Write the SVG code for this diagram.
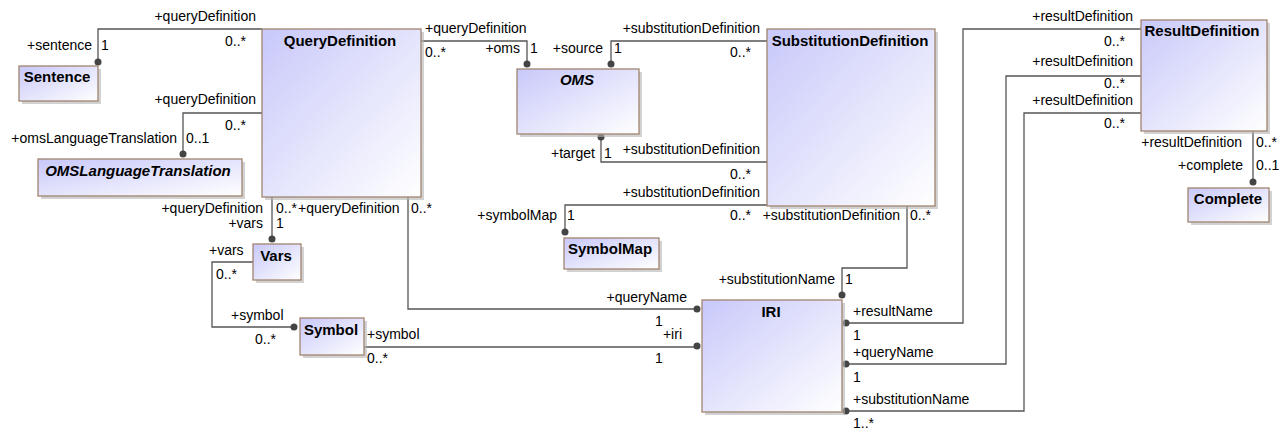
<svg xmlns="http://www.w3.org/2000/svg" width="1285" height="429" viewBox="0 0 1285 429">
<defs>
<linearGradient id="g" x1="0" y1="0" x2="1" y2="1">
<stop offset="0" stop-color="#c8c8fa"/>
<stop offset="1" stop-color="#ffffff"/>
</linearGradient>
<style>
.box{fill:url(#g);stroke:#a08470;stroke-width:1.3}
.sh{fill:#b4b4b4;opacity:0.6}
.ttl{font-family:"Liberation Sans",Arial,sans-serif;font-size:15px;font-weight:bold;fill:#000;text-anchor:middle}
.it{font-style:italic}
.lbl{font-family:"Liberation Sans",Arial,sans-serif;font-size:14px;fill:#000}
.e{text-anchor:end}
.ln{fill:none;stroke:#555;stroke-width:1.3}
.dot{fill:#444}
</style>
</defs>
<rect width="1285" height="429" fill="#fff"/>

<g id="connectors">
<path class="ln" d="M262,29 H98 V62"/><circle class="dot" cx="98" cy="62" r="3.5"/>
<path class="ln" d="M262,113 H183 V154"/><circle class="dot" cx="183" cy="154" r="3.5"/>
<path class="ln" d="M421,41 H527 V64"/><circle class="dot" cx="527" cy="64" r="3.5"/>
<path class="ln" d="M272,197 V239"/><circle class="dot" cx="272" cy="239" r="3.5"/>
<path class="ln" d="M408,197 V309 H697"/><circle class="dot" cx="697" cy="309" r="3.5"/>
<path class="ln" d="M767,41 H611 V64"/><circle class="dot" cx="611" cy="64" r="3.5"/>
<path class="ln" d="M767,162 H601 V137"/><circle class="dot" cx="601" cy="137" r="3.5"/>
<path class="ln" d="M767,205 H565 V232"/><circle class="dot" cx="565" cy="232" r="3.5"/>
<path class="ln" d="M907,206 V268 H842 V295"/><circle class="dot" cx="842" cy="295" r="3.5"/>
<path class="ln" d="M253,262 H212 V327 H294"/><circle class="dot" cx="294" cy="327" r="3.5"/>
<path class="ln" d="M364,347 H697"/><circle class="dot" cx="697" cy="346" r="3.5"/>
<path class="ln" d="M1141,29 H963 V323 H846"/><circle class="dot" cx="846" cy="323" r="3.5"/>
<path class="ln" d="M1141,76 H1006 V364 H846"/><circle class="dot" cx="846" cy="364" r="3.5"/>
<path class="ln" d="M1141,113 H1024 V411 H846"/><circle class="dot" cx="846" cy="411" r="3.5"/>
<path class="ln" d="M1253,131 V182"/><circle class="dot" cx="1253" cy="182" r="3.5"/>

<text class="lbl e" x="256" y="21">+queryDefinition</text>
<text class="lbl" x="225" y="46">0..*</text>
<text class="lbl e" x="92" y="50">+sentence</text>
<text class="lbl" x="101" y="50">1</text>

<text class="lbl e" x="256" y="104">+queryDefinition</text>
<text class="lbl" x="225" y="130">0..*</text>
<text class="lbl e" x="177" y="143">+omsLanguageTranslation</text>
<text class="lbl" x="186" y="143">0..1</text>

<text class="lbl" x="425" y="33">+queryDefinition</text>
<text class="lbl" x="425" y="57">0..*</text>
<text class="lbl e" x="520" y="53">+oms</text>
<text class="lbl" x="530" y="53">1</text>

<text class="lbl e" x="760" y="33">+substitutionDefinition</text>
<text class="lbl" x="730" y="57">0..*</text>
<text class="lbl e" x="603" y="53">+source</text>
<text class="lbl" x="614" y="53">1</text>

<text class="lbl e" x="595" y="158">+target</text>
<text class="lbl" x="604" y="158">1</text>
<text class="lbl e" x="760" y="154">+substitutionDefinition</text>
<text class="lbl" x="730" y="179">0..*</text>

<text class="lbl e" x="760" y="197">+substitutionDefinition</text>
<text class="lbl" x="730" y="220">0..*</text>
<text class="lbl e" x="557" y="220">+symbolMap</text>
<text class="lbl" x="567" y="220">1</text>

<text class="lbl e" x="900" y="220">+substitutionDefinition</text>
<text class="lbl" x="910" y="220">0..*</text>
<text class="lbl e" x="835" y="284">+substitutionName</text>
<text class="lbl" x="845" y="284">1</text>

<text class="lbl e" x="263" y="213">+queryDefinition</text>
<text class="lbl" x="276" y="213">0..*</text>
<text class="lbl e" x="263" y="228">+vars</text>
<text class="lbl" x="276" y="228">1</text>

<text class="lbl" x="298" y="213">+queryDefinition</text>
<text class="lbl" x="411" y="213">0..*</text>
<text class="lbl e" x="687" y="302">+queryName</text>
<text class="lbl" x="655" y="326">1</text>

<text class="lbl" x="209" y="255">+vars</text>
<text class="lbl" x="216" y="279">0..*</text>
<text class="lbl" x="231" y="320">+symbol</text>
<text class="lbl" x="255" y="344">0..*</text>

<text class="lbl" x="367" y="339">+symbol</text>
<text class="lbl" x="367" y="363">0..*</text>
<text class="lbl e" x="682" y="339">+iri</text>
<text class="lbl" x="655" y="363">1</text>

<text class="lbl e" x="1133" y="21">+resultDefinition</text>
<text class="lbl" x="1104" y="46">0..*</text>
<text class="lbl" x="853" y="316">+resultName</text>
<text class="lbl" x="853" y="340">1</text>

<text class="lbl e" x="1133" y="66">+resultDefinition</text>
<text class="lbl" x="1104" y="88">0..*</text>
<text class="lbl" x="853" y="357">+queryName</text>
<text class="lbl" x="853" y="382">1</text>

<text class="lbl e" x="1133" y="105">+resultDefinition</text>
<text class="lbl" x="1104" y="128">0..*</text>
<text class="lbl" x="853" y="404">+substitutionName</text>
<text class="lbl" x="853" y="428">1..*</text>

<text class="lbl e" x="1242" y="147">+resultDefinition</text>
<text class="lbl" x="1256" y="147">0..*</text>
<text class="lbl e" x="1243" y="170">+complete</text>
<text class="lbl" x="1256" y="170">0..1</text>
</g>

<g id="QueryDefinition">
<rect class="sh" x="265" y="32" width="159" height="168"/>
<rect class="box" x="262" y="29" width="159" height="168"/>
<text class="ttl" x="340" y="46">QueryDefinition</text>
</g>
<g id="Sentence">
<rect class="sh" x="22" y="69" width="79" height="35"/>
<rect class="box" x="19" y="66" width="79" height="35"/>
<text class="ttl" x="57" y="82">Sentence</text>
</g>
<g id="OMSLanguageTranslation">
<rect class="sh" x="41" y="162" width="204" height="37"/>
<rect class="box" x="38" y="159" width="204" height="37"/>
<text class="ttl it" x="138" y="176">OMSLanguageTranslation</text>
</g>
<g id="OMS">
<rect class="sh" x="520" y="72" width="122" height="65"/>
<rect class="box" x="517" y="69" width="122" height="65"/>
<text class="ttl it" x="577" y="85">OMS</text>
</g>
<g id="SubstitutionDefinition">
<rect class="sh" x="770" y="32" width="168" height="177"/>
<rect class="box" x="767" y="29" width="168" height="177"/>
<text class="ttl" x="850" y="46">SubstitutionDefinition</text>
</g>
<g id="ResultDefinition">
<rect class="sh" x="1144" y="23" width="126" height="111"/>
<rect class="box" x="1141" y="20" width="126" height="111"/>
<text class="ttl" x="1202" y="36">ResultDefinition</text>
</g>
<g id="Complete">
<rect class="sh" x="1191" y="191" width="81" height="34"/>
<rect class="box" x="1188" y="188" width="81" height="34"/>
<text class="ttl" x="1228" y="204">Complete</text>
</g>
<g id="Vars">
<rect class="sh" x="256" y="247" width="48" height="36"/>
<rect class="box" x="253" y="244" width="48" height="36"/>
<text class="ttl" x="276" y="261">Vars</text>
</g>
<g id="Symbol">
<rect class="sh" x="303" y="321" width="64" height="37"/>
<rect class="box" x="300" y="318" width="64" height="37"/>
<text class="ttl" x="331" y="335">Symbol</text>
</g>
<g id="SymbolMap">
<rect class="sh" x="567" y="241" width="95" height="31"/>
<rect class="box" x="564" y="238" width="95" height="31"/>
<text class="ttl" x="610" y="254">SymbolMap</text>
</g>
<g id="IRI">
<rect class="sh" x="705" y="303" width="140" height="112"/>
<rect class="box" x="702" y="300" width="140" height="112"/>
<text class="ttl" x="771" y="317">IRI</text>
</g>
</svg>
